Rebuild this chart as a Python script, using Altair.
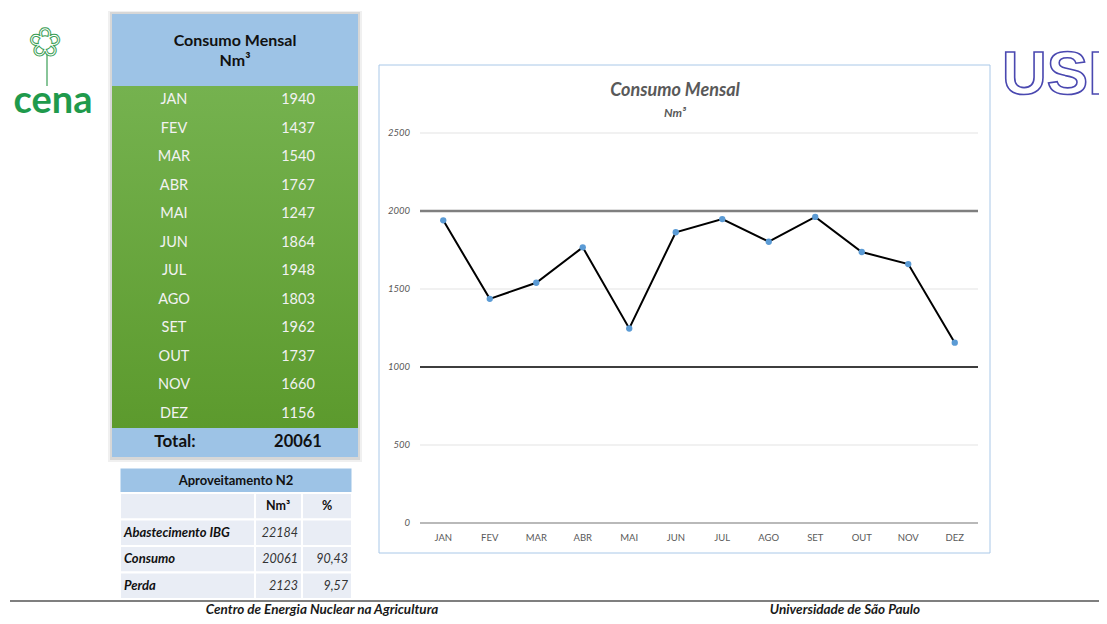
import altair as alt
import pandas as pd

# ---------------- data ----------------
months = ["JAN", "FEV", "MAR", "ABR", "MAI", "JUN", "JUL", "AGO", "SET", "OUT", "NOV", "DEZ"]
consumo = [1940, 1437, 1540, 1767, 1247, 1864, 1948, 1803, 1962, 1737, 1660, 1156]
total_label = "Total:"
total_value = "20061"
y_ticks = [0, 500, 1000, 1500, 2000, 2500]
ref_lines = [2000, 1000]
ap_keys = ["h", "a", "c", "p"]
ap_rows = ["", "Abastecimento IBG", "Consumo", "Perda"]
ap_nm3 = ["Nm³", "22184", "20061", "2123"]
ap_pct = ["%", "", "90,43", "9,57"]

W, H = 1091, 608
FONT = "Lato"


def X(v):
    return v - 8


def Y(v):
    return v - 8


one = pd.DataFrame({"a": [0]})
df = pd.DataFrame({"month": months, "v": consumo})
ticks = pd.DataFrame({"t": y_ticks})
ap = pd.DataFrame({"k": ap_keys, "label": ap_rows, "nm3": ap_nm3, "pct": ap_pct})
ap_head = ap[ap.k == "h"]
ap_body = ap[ap.k != "h"]


def box(x1, x2, y1, y2, **kw):
    return alt.Chart(one).mark_rect(**kw).encode(
        x=alt.value(X(x1)), x2=alt.value(X(x2)), y=alt.value(Y(y1)), y2=alt.value(Y(y2))
    )


def label(txt, x, y, **kw):
    kw.setdefault("font", FONT)
    return alt.Chart(one).mark_text(text=txt, **kw).encode(
        x=alt.value(X(x)), y=alt.value(Y(y))
    )


layers = []

# ---------------- logos ----------------
layers.append(alt.Chart(one).mark_rule(color="#3a9e55", strokeWidth=1.2).encode(
    x=alt.value(X(47)), y=alt.value(Y(52)), y2=alt.value(Y(86))))
layers.append(label("❀", 45, 44, font="DejaVu Sans", fontSize=40, fill="white",
                    stroke="#3a9e55", strokeWidth=1))
layers.append(label("cena", 53, 102, fontSize=38, fontWeight="bold", color="#1f9a4c"))
layers.append(label("USP", 1002, 94, font="Liberation Sans", fontSize=62,
                    fontWeight="bold", fill="white", stroke="#4a48b0", strokeWidth=1.6,
                    align="left", baseline="alphabetic"))

# ---------------- main table ----------------
layers.append(box(108, 362, 11, 462, color="#000000", opacity=0.06))
layers.append(box(110, 360, 12, 460, color="#000000", opacity=0.10))
layers.append(box(112, 358, 14, 86, color="#9dc3e6"))
layers.append(box(112, 358, 86, 428, color=alt.Gradient(
    gradient="linear",
    stops=[alt.GradientStop(color="#75b24f", offset=0),
           alt.GradientStop(color="#5c9a2d", offset=1)],
    x1=0, x2=0, y1=0, y2=1)))
layers.append(box(112, 358, 428, 457, color="#9dc3e6"))
layers.append(label("Consumo Mensal", 235, 41, fontSize=16, fontWeight="bold", color="#111111"))
layers.append(label("Nm³", 235, 61, fontSize=16, fontWeight="bold", color="#111111"))

ymonth = alt.Scale(type="point", domain=months, range=[Y(86), Y(428)], padding=0.5)
layers.append(alt.Chart(df).mark_text(font=FONT, fontSize=14.5, color="#f2f2f2").encode(
    y=alt.Y("month:N", scale=ymonth, axis=None), x=alt.value(X(174)), text="month:N"))
layers.append(alt.Chart(df).mark_text(font=FONT, fontSize=14.5, color="#f2f2f2").encode(
    y=alt.Y("month:N", scale=ymonth, axis=None), x=alt.value(X(298)), text="v:Q"))
layers.append(label(total_label, 175, 442, fontSize=17, fontWeight="bold", color="#111111"))
layers.append(label(total_value, 298, 442, fontSize=16.5, fontWeight="bold", color="#111111"))

# ---------------- second table ----------------
layers.append(box(120, 352, 468, 493, color="#9dc3e6", stroke="white", strokeWidth=1))
layers.append(label("Aproveitamento N2", 236, 481, fontSize=13, fontWeight="bold", color="#111111"))
yband = alt.Scale(type="band", domain=ap_keys, range=[Y(493), Y(599)], paddingInner=0, paddingOuter=0)
ypt = alt.Scale(type="point", domain=ap_keys, range=[Y(493), Y(599)], padding=0.5)
for x1, x2 in [(120, 255), (255, 302), (302, 352)]:
    layers.append(alt.Chart(ap).mark_rect(color="#e9edf5", stroke="white", strokeWidth=2).encode(
        y=alt.Y("k:N", scale=yband, axis=None), x=alt.value(X(x1)), x2=alt.value(X(x2))))
layers.append(alt.Chart(ap_body).mark_text(font=FONT, fontSize=13, fontWeight="bold",
                                           fontStyle="italic", align="left", color="#111111").encode(
    y=alt.Y("k:N", scale=ypt, axis=None), x=alt.value(X(124)), text="label:N"))
layers.append(alt.Chart(ap_body).mark_text(font=FONT, fontSize=12.5, fontStyle="italic",
                                           align="right", color="#333333").encode(
    y=alt.Y("k:N", scale=ypt, axis=None), x=alt.value(X(298)), text="nm3:N"))
layers.append(alt.Chart(ap_body).mark_text(font=FONT, fontSize=12.5, fontStyle="italic",
                                           align="right", color="#333333").encode(
    y=alt.Y("k:N", scale=ypt, axis=None), x=alt.value(X(348)), text="pct:N"))
layers.append(alt.Chart(ap_head).mark_text(font=FONT, fontSize=12.5, fontWeight="bold", color="#111111").encode(
    y=alt.Y("k:N", scale=ypt, axis=None), x=alt.value(X(278)), text="nm3:N"))
layers.append(alt.Chart(ap_head).mark_text(font=FONT, fontSize=12.5, fontWeight="bold", color="#111111").encode(
    y=alt.Y("k:N", scale=ypt, axis=None), x=alt.value(X(327)), text="pct:N"))

# ---------------- line chart ----------------
layers.append(box(379, 990, 65, 553, fill="white", stroke="#a9c8e8", strokeWidth=1))
layers.append(label("Consumo Mensal", 675, 91, fontSize=18, fontStyle="italic",
                    fontWeight="bold", color="#595959"))
layers.append(label("Nm³", 675, 113, fontSize=12, fontStyle="italic",
                    fontWeight="bold", color="#595959"))

xscale = alt.Scale(type="point", domain=months, range=[X(420), X(978)], padding=0.5)
yscale = alt.Scale(domain=[0, 2500], range=[Y(523), Y(133)], nice=False, zero=False)

layers.append(alt.Chart(ticks).mark_rule(color="#e3e3e3", strokeWidth=1).encode(
    y=alt.Y("t:Q", scale=yscale, axis=None), x=alt.value(X(420)), x2=alt.value(X(978))))
layers.append(alt.Chart(ticks).mark_text(font=FONT, fontSize=9.5, fontStyle="italic",
                                         align="right", color="#595959").encode(
    y=alt.Y("t:Q", scale=yscale, axis=None), x=alt.value(X(410)), text="t:Q"))
layers.append(alt.Chart(ticks[ticks.t == y_ticks[0]]).mark_rule(color="#a6a6a6", strokeWidth=1.5).encode(
    y=alt.Y("t:Q", scale=yscale, axis=None), x=alt.value(X(420)), x2=alt.value(X(978))))
layers.append(alt.Chart(pd.DataFrame({"r": [ref_lines[0]]})).mark_rule(color="#7f7f7f", strokeWidth=2.5).encode(
    y=alt.Y("r:Q", scale=yscale, axis=None), x=alt.value(X(420)), x2=alt.value(X(978))))
layers.append(alt.Chart(pd.DataFrame({"r": [ref_lines[1]]})).mark_rule(color="#000000", strokeWidth=1.6).encode(
    y=alt.Y("r:Q", scale=yscale, axis=None), x=alt.value(X(420)), x2=alt.value(X(978))))
layers.append(alt.Chart(df).mark_line(color="black", strokeWidth=2).encode(
    x=alt.X("month:N", scale=xscale, axis=None, sort=months),
    y=alt.Y("v:Q", scale=yscale, axis=None)))
layers.append(alt.Chart(df).mark_circle(color="#5b9bd5", size=40, opacity=1).encode(
    x=alt.X("month:N", scale=xscale, axis=None, sort=months),
    y=alt.Y("v:Q", scale=yscale, axis=None)))
layers.append(alt.Chart(df).mark_text(font=FONT, fontSize=9.5, color="#595959").encode(
    x=alt.X("month:N", scale=xscale, axis=None, sort=months),
    y=alt.value(Y(538)), text="month:N"))

# ---------------- footer ----------------
layers.append(alt.Chart(one).mark_rule(color="#7f7f7f", strokeWidth=2).encode(
    x=alt.value(X(10)), x2=alt.value(W), y=alt.value(Y(601))))
layers.append(label("Centro de Energia Nuclear na Agricultura", 322, 610, fontSize=13.5,
                    fontStyle="italic", fontWeight="bold", color="#1a1a1a"))
layers.append(label("Universidade de São Paulo", 845, 610, fontSize=13.5,
                    fontStyle="italic", fontWeight="bold", color="#1a1a1a"))

chart = alt.layer(*layers).resolve_scale(x="independent", y="independent").properties(
    width=W, height=H, autosize=alt.AutoSizeParams(type="none"), padding=0,
    background="white"
).configure_view(stroke=None)

chart.save("out.html", embed_options={"renderer": "svg", "actions": False})
